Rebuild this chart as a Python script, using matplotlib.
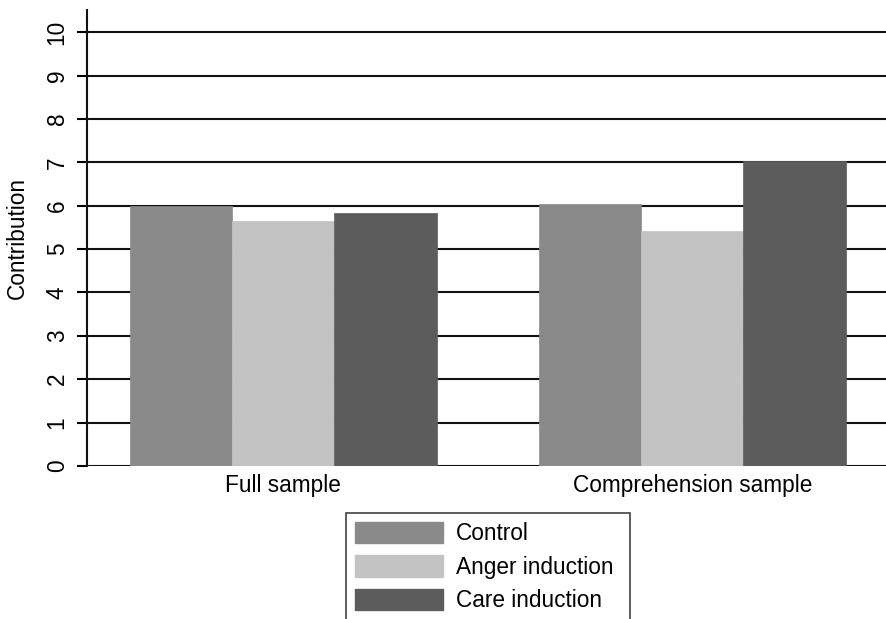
import matplotlib
matplotlib.use("Agg")
import matplotlib.pyplot as plt
import numpy as np

plt.rcParams['font.family'] = ['Liberation Sans', 'DejaVu Sans']

groups = ["Full sample", "Comprehension sample"]
series = ["Control", "Anger induction", "Care induction"]
values = {
    "Control": [6.00, 6.04],
    "Anger induction": [5.64, 5.41],
    "Care induction": [5.83, 7.03],
}
colors = ["#8a8a8a", "#c3c3c3", "#5c5c5c"]
yticks = list(range(0, 11))

fig = plt.figure(figsize=(8.87, 6.19), dpi=100)
ax = fig.add_axes([87/887, 1 - 466/619, 0.9037, (466 - 10)/619])

x = np.arange(len(groups))
w = 0.25
for i, s in enumerate(series):
    ax.bar(x + (i - 1) * w, values[s], width=w, color=colors[i],
           edgecolor=colors[i], linewidth=0.5, zorder=3)

ax.set_xlim(-0.48, 1.48)
ax.set_ylim(0, 10.51)
ax.set_yticks(yticks)
ax.set_yticklabels([str(t) for t in yticks], rotation=90, va='center')
ax.set_xticks(x)
ax.set_xticklabels(groups)
ax.tick_params(axis='y', length=7.2, width=1.5, pad=6, labelsize=16.3)
ax.tick_params(axis='x', length=0, pad=6, labelsize=16.3)
ax.yaxis.grid(True, color='#111111', linewidth=1.5, zorder=1)
ax.set_axisbelow(True)
for sp in ['top', 'right', 'bottom']:
    ax.spines[sp].set_visible(False)
ax.spines['left'].set_linewidth(1.5)
ax.spines['left'].set_color('#111111')
ax.set_ylabel("Contribution", fontsize=16.3, labelpad=12)

handles = [plt.Rectangle((0, 0), 1, 1, color=c) for c in colors]
# blank trailing row so the legend frame runs past the bottom edge as in the original
handles.append(plt.Rectangle((0, 0), 1, 1, color='none'))
labels = series + [""]
leg = fig.legend(handles, labels, loc='upper left',
                 bbox_to_anchor=(346/887, 1 - 513/619, (630 - 346)/887, 0.0),
                 mode='expand', fontsize=16.3, frameon=True, fancybox=False,
                 edgecolor='#111111', handlelength=3.9, handleheight=1.08,
                 handletextpad=0.55, labelspacing=0.44, borderpad=0.4,
                 borderaxespad=0)
leg.get_frame().set_linewidth(1.2)

fig.savefig("out.png", dpi=100)
